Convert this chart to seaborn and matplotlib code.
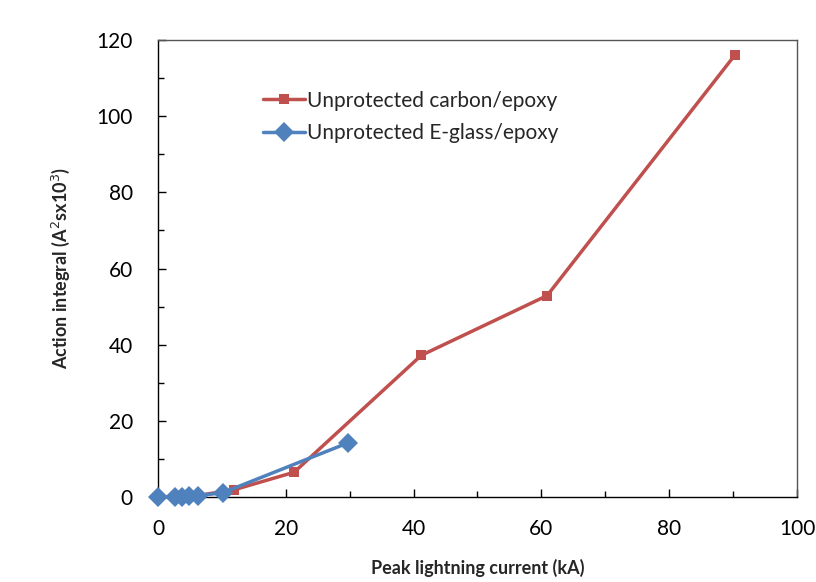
import seaborn as sns
import matplotlib.pyplot as plt
import pandas as pd

# Unprotected carbon/epoxy
carbon_x = [0, 6.2, 11.9, 21.3, 41.2, 60.9, 90.3]
carbon_y = [0, 0.4, 1.9, 6.5, 37.2, 52.9, 116.1]
# Unprotected E-glass/epoxy
glass_x = [0, 2.7, 3.7, 4.8, 6.3, 10.1, 29.7]
glass_y = [0, 0.05, 0.1, 0.2, 0.4, 1.1, 14.2]

series_names = ["Unprotected carbon/epoxy", "Unprotected E-glass/epoxy"]

df = pd.concat([
    pd.DataFrame({"x": carbon_x, "y": carbon_y, "series": series_names[0]}),
    pd.DataFrame({"x": glass_x, "y": glass_y, "series": series_names[1]}),
])

sns.set_style("ticks")
plt.rcParams['font.family'] = ['Lato', 'DejaVu Sans']

fig = plt.figure(figsize=(8.16, 5.82), dpi=100)
ax = fig.add_axes([0.1936, 0.146, 0.7831, 0.7852])

palette = {series_names[0]: "#C0504D", series_names[1]: "#4F81BD"}
markers = {series_names[0]: "s", series_names[1]: "D"}
sizes = {series_names[0]: 7.5, series_names[1]: 10}

for name in series_names:
    sub = df[df["series"] == name]
    sns.lineplot(data=sub, x="x", y="y", color=palette[name], marker=markers[name],
                 markersize=sizes[name], markeredgewidth=0, linewidth=2.5,
                 label=name, ax=ax, sort=False, clip_on=False, zorder=3)

ax.set_xlim(0, 100)
ax.set_ylim(0, 120)
ax.set_xticks(range(0, 101, 20))
ax.set_yticks(range(0, 121, 20))
ax.set_xticks(range(10, 100, 20), minor=True)
ax.set_yticks(range(10, 120, 20), minor=True)
ax.tick_params(which="both", direction="in", labelsize=15, colors="black", width=1)
ax.tick_params(axis="x", which="major", length=6, pad=16)
ax.tick_params(axis="y", which="major", length=6, pad=18)
ax.tick_params(which="minor", length=4)
for s in ax.spines.values():
    s.set_color("black")
    s.set_linewidth(1)
for s in ["top", "right"]:
    ax.spines[s].set_color("#555555")

ax.set_xlabel("Peak lightning current (kA)", fontsize=13, fontweight="bold", labelpad=14)
ax.set_ylabel("Action integral (A$^2$sx10$^3$)", fontsize=13, fontweight="bold", labelpad=18)

ax.legend(loc="upper left", bbox_to_anchor=(0.135, 0.93), frameon=False, fontsize=15,
          handlelength=2.0, handletextpad=0.1, labelspacing=0.6)

fig.savefig("out.png", dpi=100)
